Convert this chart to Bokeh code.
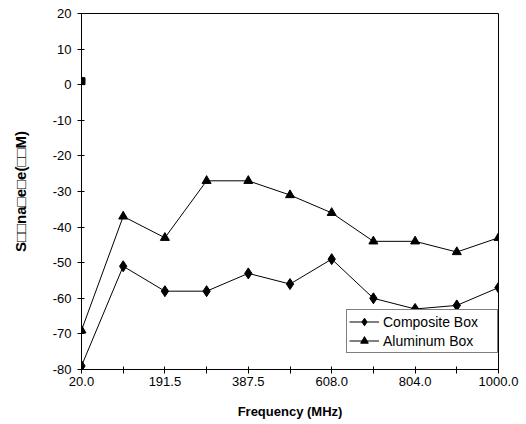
from bokeh.plotting import figure
from bokeh.models import Range1d, FixedTicker, Legend, LegendItem
from bokeh.embed import file_html
from bokeh.resources import INLINE

# ---- data ----
freq_labels = ["20.0", "", "191.5", "", "387.5", "", "608.0", "", "804.0", "", "1000.0"]
composite_box = [-79, -51, -58, -58, -53, -56, -49, -60, -63, -62, -57]
aluminum_box = [-69, -37, -43, -27, -27, -31, -36, -44, -44, -47, -43]
stray_x = [0]
stray_y = [1]
y_ticks = [-80, -70, -60, -50, -40, -30, -20, -10, 0, 10, 20]
y_tick_labels = ["-80", "-70", "-60", "-50", "-40", "-30", "-20", "-10", "0", "10", "20"]

x_idx = list(range(len(freq_labels)))
FONT = "Liberation Sans"

p = figure(width=526, height=424, output_backend="svg", toolbar_location=None,
           x_range=Range1d(0, len(freq_labels) - 1), y_range=Range1d(y_ticks[0], y_ticks[-1]),
           min_border_left=81, min_border_right=28, min_border_top=13, min_border_bottom=55)
p.background_fill_color = "white"
p.border_fill_color = "white"
p.outline_line_color = "black"
p.outline_line_width = 1
p.xgrid.visible = False
p.ygrid.visible = False

# axes
p.xaxis.ticker = FixedTicker(ticks=x_idx)
p.xaxis.major_label_overrides = {i: lab for i, lab in zip(x_idx, freq_labels)}
p.yaxis.ticker = FixedTicker(ticks=y_ticks)
p.yaxis.major_label_overrides = {t: lab for t, lab in zip(y_ticks, y_tick_labels)}
for ax in (p.xaxis[0], p.yaxis[0]):
    ax.axis_line_color = "black"
    ax.major_tick_line_color = "black"
    ax.major_tick_in = 3
    ax.major_tick_out = 4
    ax.minor_tick_line_color = None
    ax.major_label_text_font = FONT
    ax.major_label_text_font_size = "13px"
    ax.major_label_text_color = "black"
    ax.axis_label_text_font = FONT
    ax.axis_label_text_font_size = "13px"
    ax.axis_label_text_font_style = "bold"
    ax.axis_label_text_color = "black"
p.xaxis.axis_label = "Frequency (MHz)"
p.yaxis.axis_label = "S\u25a1\u25a1na\u25a1e\u25a1e(\u25a1\u25a1M)"
p.yaxis.axis_label_text_font_size = "15px"
p.xaxis.major_label_standoff = 3
p.xaxis.axis_label_standoff = 15
p.yaxis.major_label_standoff = 6
p.yaxis.axis_label_standoff = 21

# series
l1 = p.line(x_idx, composite_box, line_color="black", line_width=1)
m1 = p.scatter(x_idx, composite_box, marker="diamond", size=11, fill_color="black", line_color="black")
l2 = p.line(x_idx, aluminum_box, line_color="black", line_width=1)
m2 = p.scatter(x_idx, aluminum_box, marker="triangle", size=9, fill_color="black", line_color="black")
p.scatter(stray_x, stray_y, marker="square", size=7, fill_color="black", line_color="black")

legend = Legend(items=[LegendItem(label="Composite Box", renderers=[l1, m1]),
                       LegendItem(label="Aluminum Box", renderers=[l2, m2])],
                location=(265, 16))
legend.border_line_color = "black"
legend.border_line_width = 1
legend.background_fill_color = "white"
legend.background_fill_alpha = 1
legend.label_text_font = FONT
legend.label_text_font_size = "14px"
legend.label_text_color = "black"
legend.glyph_width = 30
legend.glyph_height = 19
legend.label_height = 19
legend.label_width = 112
legend.label_standoff = 4
legend.spacing = 0
legend.padding = 2
legend.margin = 0
p.add_layout(legend, "center")

open("out.html", "w").write(file_html(p, INLINE))
